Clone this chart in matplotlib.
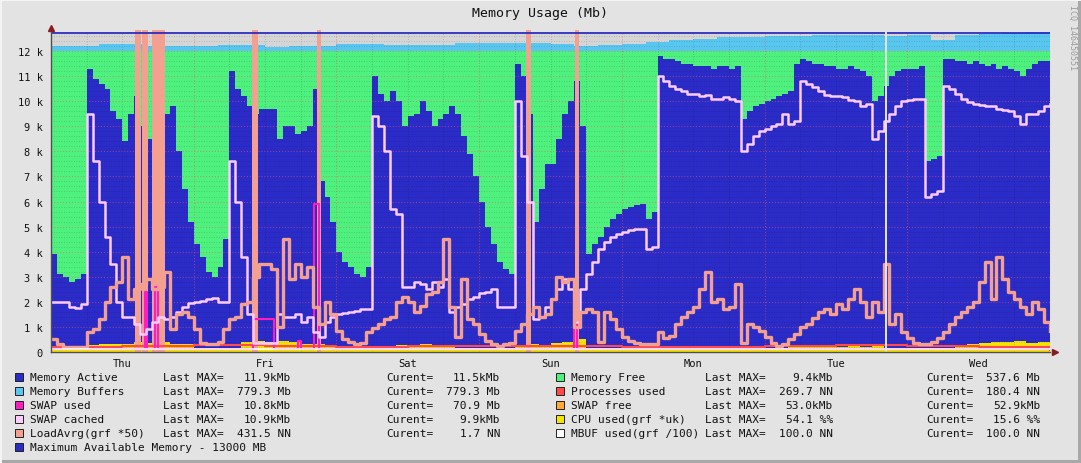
import numpy as np
import matplotlib.pyplot as plt
from matplotlib.patches import Rectangle

# ---- data (values in k Mb, x in hours from Thu 00:00) ----
hours = np.arange(169)

active = [3.9, 3.1, 3.0, 2.8, 2.9, 3.1, 11.3, 10.9, 10.7, 10.5, 9.6, 9.3, 8.4, 9.5, 10.2, 9.0, 8.5, 8.0, 7.5, 9.5,
          9.8, 8.0, 6.5, 5.2, 4.3, 3.8, 3.2, 3.0, 3.4, 4.5, 11.2, 10.5, 10.2, 9.8, 9.5, 9.7, 9.7, 9.7, 8.5, 9.0,
          9.0, 8.7, 8.8, 9.0, 10.5, 6.8, 6.2, 5.2, 4.0, 3.6, 3.4, 3.1, 3.0, 3.4, 11.0, 10.3, 10.0, 10.4, 10.0, 9.0,
          9.4, 9.5, 10.0, 9.6, 9.0, 9.3, 9.5, 9.8, 9.5, 8.6, 7.9, 7.0, 6.0, 5.0, 4.3, 3.6, 3.3, 3.1, 11.5, 11.0,
          9.5, 5.2, 6.5, 7.5, 7.5, 8.5, 9.5, 10.0, 10.8, 9.0, 3.9, 4.3, 4.6, 5.0, 5.3, 5.5, 5.7, 5.8, 5.85, 5.9,
          5.3, 5.6, 11.8, 11.7, 11.7, 11.6, 11.5, 11.5, 11.4, 11.4, 11.4, 11.3, 11.4, 11.4, 11.3, 11.4, 9.3, 9.6, 9.8, 9.9,
          10.0, 10.1, 10.2, 10.3, 10.4, 11.5, 11.7, 11.6, 11.5, 11.5, 11.4, 11.4, 11.3, 11.3, 11.4, 11.3, 11.2, 11.0, 10.0, 10.2,
          10.6, 11.0, 11.2, 11.3, 11.3, 11.3, 11.4, 7.6, 7.7, 7.8, 11.7, 11.7, 11.6, 11.6, 11.5, 11.6, 11.5, 11.4, 11.5, 11.3,
          11.4, 11.3, 11.2, 11.0, 11.3, 11.5, 11.6, 11.6, 11.6]

swap_cached = [2.0, 2.0, 2.0, 1.8, 1.75, 1.9, 9.5, 7.6, 6.0, 4.6, 3.5, 2.0, 1.4, 1.4, 1.1, 0.7, 0.9, 1.2, 1.4, 1.3,
               1.4, 1.6, 1.8, 1.95, 2.0, 2.05, 2.1, 2.15, 2.0, 2.0, 7.6, 6.0, 3.8, 1.5, 0.35, 0.35, 0.35, 0.35, 1.5, 1.4,
               1.4, 1.5, 1.2, 1.4, 0.8, 0.6, 1.2, 1.4, 1.5, 1.55, 1.6, 1.65, 1.7, 1.7, 9.4, 9.0, 8.0, 5.7, 5.5, 2.6,
               2.6, 2.8, 2.7, 2.5, 2.8, 2.6, 2.9, 1.6, 1.8, 1.9, 2.1, 2.2, 2.35, 2.4, 2.5, 1.8, 1.8, 1.8, 10.0, 7.8,
               6.0, 1.3, 1.4, 1.8, 2.1, 2.5, 2.9, 2.5, 1.2, 2.5, 3.1, 3.6, 4.1, 4.4, 4.6, 4.7, 4.8, 4.85, 4.9, 4.9,
               4.1, 4.2, 11.0, 10.8, 10.6, 10.5, 10.4, 10.3, 10.3, 10.2, 10.25, 10.1, 10.1, 10.15, 10.1, 10.0, 8.0, 8.3, 8.6, 8.8,
               8.9, 9.0, 9.1, 9.5, 9.1, 9.2, 10.8, 10.7, 10.55, 10.4, 10.25, 10.2, 10.2, 10.15, 10.05, 10.0, 9.8, 9.9, 8.5, 8.8,
               9.2, 9.5, 9.8, 10.0, 10.05, 10.1, 10.1, 6.2, 6.3, 6.4, 10.6, 10.5, 10.3, 10.1, 9.95, 9.9, 9.85, 9.8, 9.8, 9.7,
               9.65, 9.6, 9.4, 9.1, 9.5, 9.5, 9.6, 9.8, 9.9]

load = [0.5, 0.3, 0.2, 0.2, 0.2, 0.2, 0.8, 0.9, 1.3, 2.0, 2.6, 2.8, 3.8, 2.1, 2.5, 2.7, 2.9, 2.5, 2.6, 3.2,
        0.9, 1.5, 1.6, 1.4, 0.9, 0.35, 0.32, 0.3, 0.4, 0.9, 1.3, 1.4, 1.9, 2.0, 3.0, 3.5, 3.5, 3.3, 1.0, 4.5,
        2.9, 3.5, 3.0, 3.4, 1.8, 1.1, 2.0, 1.5, 0.85, 0.5, 0.4, 0.32, 0.35, 0.8, 0.95, 1.1, 1.3, 1.4, 2.0, 2.2,
        2.0, 1.6, 1.85, 2.3, 2.4, 2.8, 4.5, 1.8, 0.6, 2.9, 1.3, 1.1, 0.7, 0.45, 0.3, 0.25, 0.3, 0.35, 0.85, 1.1,
        1.5, 1.8, 1.4, 1.5, 2.1, 3.0, 2.8, 2.9, 1.0, 1.6, 1.7, 1.6, 0.4, 1.6, 1.3, 0.9, 0.6, 0.45, 0.35, 0.3,
        0.3, 0.3, 0.8, 0.55, 0.65, 1.1, 1.4, 1.6, 1.8, 2.5, 3.2, 2.0, 2.1, 1.7, 1.8, 2.7, 0.35, 1.1, 1.0, 0.85,
        0.6, 0.35, 0.25, 0.3, 0.5, 0.7, 1.0, 1.1, 1.35, 1.6, 1.7, 1.5, 1.9, 1.7, 2.1, 2.5, 2.0, 1.4, 2.0, 1.6,
        3.5, 1.1, 1.5, 0.8, 0.55, 0.35, 0.3, 0.3, 0.4, 0.55, 0.8, 1.1, 1.4, 1.6, 1.8, 2.0, 2.8, 3.6, 2.1, 3.8,
        2.9, 2.4, 2.1, 1.8, 1.5, 2.0, 1.7, 1.2, 0.85]

cpu_hours = np.arange(0, 169, 2)
cpu = [0.15, 0.12, 0.15, 0.28, 0.3, 0.33, 0.3, 0.38, 0.35, 0.4, 0.33, 0.3, 0.15, 0.12, 0.13, 0.15, 0.38, 0.45,
       0.4, 0.42, 0.38, 0.3, 0.32, 0.25, 0.12, 0.12, 0.13, 0.2, 0.25, 0.28, 0.26, 0.3, 0.27, 0.25, 0.15, 0.13,
       0.12, 0.13, 0.15, 0.25, 0.3, 0.28, 0.35, 0.4, 0.5, 0.12, 0.12, 0.13, 0.12, 0.12, 0.13, 0.2, 0.22, 0.25,
       0.22, 0.24, 0.2, 0.23, 0.15, 0.15, 0.14, 0.15, 0.2, 0.22, 0.2, 0.21, 0.2, 0.23, 0.2, 0.22, 0.12, 0.12,
       0.11, 0.12, 0.12, 0.13, 0.2, 0.3, 0.35, 0.4, 0.38, 0.45, 0.35, 0.4, 0.3]

buf_hours = np.arange(0, 169, 4)
buffers = [0.2, 0.22, 0.3, 0.27, 0.2, 0.2, 0.22, 0.25, 0.25, 0.18, 0.2, 0.2, 0.28, 0.28, 0.25, 0.25, 0.25, 0.32,
           0.32, 0.32, 0.32, 0.3, 0.2, 0.25, 0.3, 0.37, 0.45, 0.5, 0.55, 0.58, 0.6, 0.62, 0.63, 0.64, 0.65, 0.6,
           0.66, 0.45, 0.66, 0.7, 0.72, 0.76, 0.78]
free_top = 12.0

proc_hours = np.arange(0, 169, 12)
processes = [0.2, 0.22, 0.26, 0.24, 0.2, 0.22, 0.25, 0.23, 0.2, 0.21, 0.24, 0.27, 0.22, 0.2, 0.18]

swap_used_hours = [0, 15.8, 16.2, 17.5, 18.0, 34.0, 37.5, 41.6, 42.1, 44.3, 45.0, 87.9, 88.5, 168]
swap_used = [0.1, 2.4, 0.1, 2.6, 0.1, 1.3, 0.1, 0.45, 0.1, 5.9, 0.1, 1.2, 0.1, 0.07]

mbuf = 0.1
max_mem = 12.72

load_offscale = [(14.1, 15.1), (15.35, 16.3), (17.0, 19.2), (33.75, 34.75),
                 (44.7, 45.4), (79.9, 80.7), (88.2, 88.85)]
gaps = [(140.2, 140.55)]

days = ["Thu", "Fri", "Sat", "Sun", "Mon", "Tue", "Wed"]

left_names = ["Memory Active", "Memory Buffers", "SWAP used", "SWAP cached", "LoadAvrg(grf *50)"]
left_max = ["11.9kMb", "779.3 Mb", "10.8kMb", "10.9kMb", "431.5 NN"]
left_cur = ["11.5kMb", "779.3 Mb", "70.9 Mb", "9.9kMb", "1.7 NN"]
right_names = ["Memory Free", "Processes used", "SWAP free", "CPU used(grf *uk)", "MBUF used(grf /100)"]
right_max = ["9.4kMb", "269.7 NN", "53.0kMb", "54.1 %%", "100.0 NN"]
right_cur = ["537.6 Mb", "180.4 NN", "52.9kMb", "15.6 %%", "100.0 NN"]

# ---- colours ----
C_ACT = "#2b2bc8"
C_FREE = "#4ef07e"
C_BUF = "#58c6ee"
C_SWU = "#ff1cc0"
C_SWC = "#ffccff"
C_LOAD = "#f4a090"
C_PROC = "#ff4a4a"
C_SWF = "#ffa83c"
C_CPU = "#f5e400"
C_MBUF = "#ffffff"
left_cols = [C_ACT, C_BUF, C_SWU, C_SWC, C_LOAD]
right_cols = [C_FREE, C_PROC, C_SWF, C_CPU, C_MBUF]

W, H = 1081, 464
MONO = "DejaVu Sans Mono"
plt.rcParams['font.family'] = MONO


def fx(x):
    return x / W


def fy(y):
    return 1 - y / H


fig = plt.figure(figsize=(W / 100, H / 100), dpi=100, facecolor="#e3e3e3")
ax = fig.add_axes([fx(51), fy(353), fx(1050) - fx(51), fy(33) - fy(353)])
ax.set_facecolor("#d5d5d5")

buf = np.array(buffers)
ax.fill_between(buf_hours, free_top, free_top + buf, step="post", color=C_BUF, lw=0, zorder=1)
ax.fill_between(hours, active, free_top, step="post", color=C_FREE, lw=0, zorder=1)
ax.fill_between(hours, 0, active, step="post", color=C_ACT, lw=0, zorder=2)
ax.fill_between(cpu_hours, 0, cpu, step="post", color=C_CPU, lw=0, zorder=3)

# grid on top of the areas
for v in np.arange(0.2, 12.8, 0.2):
    if abs(v - round(v)) > 0.01:
        ax.axhline(v, color="#000000", alpha=0.18, lw=0.6, ls=(0, (1, 2)), zorder=4)
for v in range(1, 13):
    ax.axhline(v, color="#ff5050", alpha=0.55, lw=0.7, ls=(0, (1, 2)), zorder=4)
for h in range(6, 168, 6):
    if h % 24:
        ax.axvline(h, color="#000000", alpha=0.2, lw=0.6, ls=(0, (1, 2)), zorder=4)
    else:
        ax.axvline(h, color="#ff5050", alpha=0.6, lw=0.7, ls=(0, (1, 2)), zorder=4)

for a, b in load_offscale:
    ax.axvspan(a, b, ymax=1.005, color=C_LOAD, lw=0, zorder=5, clip_on=False)

ax.plot(proc_hours, processes, drawstyle="steps-post", color=C_PROC, lw=1.5, zorder=6)
ax.plot(swap_used_hours, swap_used, drawstyle="steps-post", color=C_SWU, lw=1.5, zorder=6)
ax.plot(hours, swap_cached, drawstyle="steps-post", color=C_SWC, lw=1.8, zorder=7)
ax.plot(hours, load, drawstyle="steps-post", color=C_LOAD, lw=2.4, zorder=8)
ax.axhline(mbuf, color=C_MBUF, lw=1.2, zorder=9)
ax.axhline(max_mem, color="#2020c0", lw=1.2, zorder=9)

for a, b in gaps:
    ax.axvspan(a, b, color="#e2e2e2", lw=0, zorder=10)

ax.set_xlim(0, 168)
ax.set_ylim(0, 12.76)
ax.set_yticks(range(0, 13))
ax.set_yticklabels(["0"] + ["%d k" % v for v in range(1, 13)])
ax.set_xticks(np.arange(12, 168, 24))
ax.set_xticklabels(days)
ax.tick_params(axis="y", length=0, pad=6, labelsize=7.5, colors="#111111")
ax.tick_params(axis="x", length=0, pad=4, labelsize=7.5, colors="#111111")
for s in ["top", "right"]:
    ax.spines[s].set_visible(False)
for s in ["left", "bottom"]:
    ax.spines[s].set_color("#505050")
    ax.spines[s].set_linewidth(1.0)
    ax.spines[s].set_zorder(11)

ax.plot([0], [1 + 4 / 320], marker="^", color="#8b1c1c", ms=5, transform=ax.transAxes, clip_on=False)
ax.plot([1 + 5 / 999], [0], marker=">", color="#8b1c1c", ms=5, transform=ax.transAxes, clip_on=False)

fig.text(fx(540), fy(14), "Memory Usage (Mb)", ha="center", va="center", fontsize=9.5, color="#111111")
fig.text(fx(1073), fy(5), "ICQ 146450551", rotation=270, ha="center", va="top", fontsize=6,
         color="#9a9a9a")

# legend
rows_y = [378, 392, 406, 420, 434]
for i, y in enumerate(rows_y):
    for x0, cols, names, mx, cur, xmax, xlast, xcur, xcurv in [
            (15, left_cols, left_names, left_max, left_cur, 291, 163, 386, 500),
            (556, right_cols, right_names, right_max, right_cur, 833, 705, 926, 1040)]:
        fig.patches.append(Rectangle((fx(x0), fy(y + 4)), fx(8), 8 / H, transform=fig.transFigure,
                                     facecolor=cols[i], edgecolor="#202020", lw=0.7))
        fig.text(fx(x0 + 15), fy(y), names[i], va="center", fontsize=8, color="#111111")
        fig.text(fx(xlast), fy(y), "Last MAX=", va="center", fontsize=8, color="#111111")
        fig.text(fx(xmax), fy(y), mx[i], va="center", ha="right", fontsize=8, color="#111111")
        fig.text(fx(xcur), fy(y), "Curent=", va="center", fontsize=8, color="#111111")
        fig.text(fx(xcurv), fy(y), cur[i], va="center", ha="right", fontsize=8, color="#111111")

fig.patches.append(Rectangle((fx(15), fy(448 + 4)), fx(8), 8 / H, transform=fig.transFigure,
                             facecolor=C_ACT, edgecolor="#202020", lw=0.7))
fig.text(fx(30), fy(448), "Maximum Available Memory - 13000 MB", va="center", fontsize=8, color="#111111")

# 3d border
fig.patches.append(Rectangle((0, 0), 1, 3 / H, transform=fig.transFigure, color="#a8a8a8", lw=0))
fig.patches.append(Rectangle((1 - 3 / W, 0), 3 / W, 1, transform=fig.transFigure, color="#a8a8a8", lw=0))
fig.patches.append(Rectangle((0, 1 - 2 / H), 1, 2 / H, transform=fig.transFigure, color="#f4f4f4", lw=0))
fig.patches.append(Rectangle((0, 0), 2 / W, 1, transform=fig.transFigure, color="#f4f4f4", lw=0))

fig.savefig("out.png", dpi=100, facecolor=fig.get_facecolor())
